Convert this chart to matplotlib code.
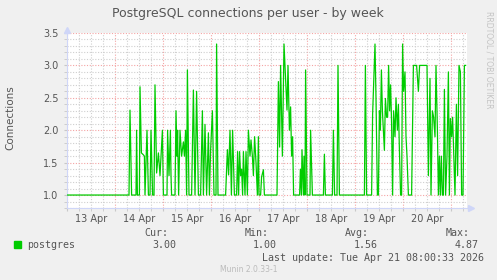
import matplotlib
matplotlib.use('Agg')
import matplotlib.pyplot as plt
from matplotlib.patches import Rectangle
from matplotlib.ticker import MultipleLocator, FormatStrFormatter
import matplotlib.transforms as mtransforms

# hours since 13 Apr 00:00, connections for user postgres
hours = [0, 31.0, 31.5, 32.3, 34.5, 34.8, 35.2, 36.2, 36.5, 37.2, 38.2, 38.7, 39.0,
         40.0, 40.7, 41.5, 42.0, 42.8, 43.5, 44.0, 44.8, 45.7, 46.5, 47.7, 48.2,
         50.0, 50.3, 51.0, 51.7, 52.0, 52.3, 54.0, 54.5, 55.0, 55.3, 55.8, 56.5,
         57.3, 58.2, 58.7, 59.3, 59.8, 60.2, 61.0, 62.3, 63.2, 64.0, 64.8, 65.7,
         66.8, 67.7, 68.2, 69.0, 69.8, 70.7, 71.2, 71.8, 72.7, 73.5, 74.5, 74.8,
         75.5, 79.3, 80.2, 80.8, 81.5, 82.2, 82.8, 83.7, 84.8, 85.3, 85.8, 86.3,
         86.8, 87.3, 87.8, 88.2, 89.0, 89.5, 90.2, 90.7, 91.5, 92.0, 92.7, 93.2,
         93.8, 94.5, 95.2, 95.7, 96.0, 96.8, 97.3, 98.2, 98.7, 105.0, 105.7, 106.3,
         106.8, 107.7, 108.5, 109.0, 110.0, 110.5, 111.2, 111.8, 112.3, 112.8,
         113.3, 116.3, 116.7, 117.2, 117.5, 118.2, 118.5, 119.0, 119.3, 120.0,
         121.5, 121.8, 122.7, 128.2, 128.7, 129.2, 132.7, 133.2, 133.8, 135.0,
         135.5, 136.2, 148.7, 149.2, 149.8, 152.3, 152.8, 154.0, 154.5, 155.2,
         155.7, 156.2, 156.7, 157.2, 157.7, 158.2, 158.7, 159.2, 159.8, 160.3,
         160.8, 161.3, 161.8, 162.3, 162.8, 163.3, 164.0, 164.5, 165.2, 165.7,
         166.2, 166.8, 167.3, 167.8, 168.3, 169.0, 169.5, 170.0, 170.7, 172.3,
         173.2, 174.8, 175.7, 176.3, 180.0, 180.7, 181.5, 182.0, 182.7, 183.3,
         184.0, 184.5, 185.2, 185.7, 186.2, 186.7, 187.2, 187.7, 188.2, 188.7,
         189.3, 190.0, 190.7, 191.2, 191.7, 192.3, 192.8, 193.3, 194.0, 194.7,
         195.3, 196.0, 196.7, 197.3, 198.0, 198.7, 199.3]
conns = [1.0, 1.0, 2.31, 1.0, 1.0, 2.0, 1.0, 1.0, 2.67, 1.65, 1.62, 1.6, 1.0,
         2.0, 1.0, 1.0, 2.0, 1.0, 1.0, 2.7, 1.34, 1.65, 1.3, 2.0, 1.0,
         1.0, 2.0, 1.3, 2.0, 1.3, 1.0, 1.0, 2.3, 1.6, 2.0, 1.0, 2.0,
         1.6, 1.82, 1.6, 2.0, 1.0, 2.93, 1.0, 1.0, 2.62, 1.0, 2.6, 1.0,
         1.0, 2.3, 1.0, 2.09, 1.0, 1.96, 1.0, 1.69, 2.3, 1.0, 1.0, 3.33,
         1.0, 1.0, 1.7, 1.31, 2.0, 1.0, 2.0, 1.0, 1.0, 1.67, 1.0, 1.67,
         1.3, 1.4, 1.0, 1.67, 1.0, 1.67, 1.0, 2.0, 1.6, 1.85, 1.6, 1.3,
         1.9, 1.5, 1.0, 1.9, 1.0, 1.0, 1.28, 1.39, 1.0, 1.0, 2.75, 1.74,
         3.0, 1.6, 3.33, 3.0, 2.31, 3.0, 2.0, 2.36, 1.6, 1.9,
         1.0, 1.0, 1.4, 1.0, 1.7, 1.0, 1.6, 1.0, 2.93, 1.0,
         1.0, 2.0, 1.0, 1.0, 1.63, 1.0, 1.0, 2.0, 1.0, 1.0,
         3.0, 1.0, 1.0, 3.0, 1.0, 1.0, 2.24, 3.33, 2.5, 1.0,
         1.0, 2.3, 2.0, 2.93, 2.3, 2.0, 1.69, 2.49, 2.2, 2.2,
         3.0, 2.3, 2.7, 2.1, 1.0, 2.3, 1.9, 2.5, 2.0, 2.4,
         1.7, 1.0, 1.0, 3.33, 2.6, 2.9, 1.9, 1.6, 1.0, 1.0,
         3.0, 3.0, 2.6, 3.0, 3.0, 1.3, 2.8, 1.0, 2.3, 2.2,
         1.9, 3.0, 2.0, 1.0, 1.6, 1.0, 1.6, 1.0, 1.0, 2.63,
         1.0, 1.6, 2.9, 1.0, 2.18, 1.9, 2.2, 1.7, 1.0, 2.4,
         1.3, 3.0, 2.9, 1.0, 1.0, 3.0, 3.0]

day_labels = ['13 Apr', '14 Apr', '15 Apr', '16 Apr', '17 Apr', '18 Apr', '19 Apr', '20 Apr']
stat_names = ['Cur:', 'Min:', 'Avg:', 'Max:']
stat_values = ['3.00', '1.00', '1.56', '4.87']

W, H = 497, 280
BG = '#F0F0F0'
TXT = '#555555'
AXC = '#CFD6F8'
GREEN = '#00CC00'


def px(x, y):
    return x / W, 1 - y / H


fig = plt.figure(figsize=(W / 100, H / 100), dpi=100, facecolor=BG)
ax = fig.add_axes([67 / W, 1 - 208 / H, 400 / W, 175 / H])
ax.set_facecolor('white')

ax.plot(hours, conns, color=GREEN, linewidth=0.9, zorder=3)

ax.set_xlim(0, 200)
ax.set_ylim(0.8, 3.5)

# grid: gray every 6h / 0.1, red every day / 0.5
ax.xaxis.set_major_locator(MultipleLocator(24))
ax.xaxis.set_minor_locator(MultipleLocator(6))
ax.yaxis.set_major_locator(MultipleLocator(0.5))
ax.yaxis.set_minor_locator(MultipleLocator(0.1))
ax.yaxis.set_major_formatter(FormatStrFormatter('%.1f'))
ax.set_xticklabels([])
ax.grid(which='minor', color='#CFCFCF', linestyle=(0, (1, 1.5)), linewidth=0.8)
ax.grid(which='major', color='#F4A4A4', linestyle=(0, (1, 1.5)), linewidth=0.8)
ax.set_axisbelow(True)
ax.set_yticks([1.0, 1.5, 2.0, 2.5, 3.0, 3.5])
ax.tick_params(axis='both', which='both', length=2, color='#C8C8C8', labelcolor=TXT, labelsize=7)
ax.tick_params(axis='y', pad=4)

for i, lab in enumerate(day_labels):
    ax.text(12 + 24 * i, -0.035, lab, transform=mtransforms.blended_transform_factory(ax.transData, ax.transAxes),
            ha='center', va='top', fontsize=7, color=TXT)

for side in ['top', 'right']:
    ax.spines[side].set_visible(False)
for side in ['left', 'bottom']:
    ax.spines[side].set_color(AXC)
    ax.spines[side].set_linewidth(0.8)
ax.plot([0], [1.02], marker='^', color=AXC, markersize=4, transform=ax.transAxes, clip_on=False)
ax.plot([1.01], [0], marker='>', color=AXC, markersize=4, transform=ax.transAxes, clip_on=False)

fig.text(*px(248, 14), 'PostgreSQL connections per user - by week', ha='center', va='center',
         fontsize=9, color=TXT)
fig.text(*px(10, 118), 'Connections', rotation=90, ha='center', va='center', fontsize=7.5, color=TXT)
fig.text(*px(489, 60), 'RRDTOOL / TOBI OETIKER', rotation=270, ha='center', va='center',
         fontsize=5.5, color='#C4C4C4')

# legend
mono = 'DejaVu Sans Mono'
fig.add_artist(Rectangle(px(14, 248), 7 / W, 7 / H, transform=fig.transFigure, color=GREEN))
fig.text(*px(27, 245), 'postgres', ha='left', va='center', fontsize=7.2, color=TXT, family=mono)
for i, (name, val) in enumerate(zip(stat_names, stat_values)):
    fig.text(*px(168 + 100.5 * i, 233), name, ha='right', va='center', fontsize=7.2, color=TXT, family=mono)
    fig.text(*px(176 + 100.8 * i, 245), val, ha='right', va='center', fontsize=7.2, color=TXT, family=mono)
fig.text(*px(484, 258), 'Last update: Tue Apr 21 08:00:33 2026', ha='right', va='center',
         fontsize=7.2, color=TXT, family=mono)
fig.text(*px(249, 269), 'Munin 2.0.33-1', ha='center', va='center', fontsize=5.5, color='#BBBBBB')

fig.savefig('out.png', dpi=100, facecolor=BG)
